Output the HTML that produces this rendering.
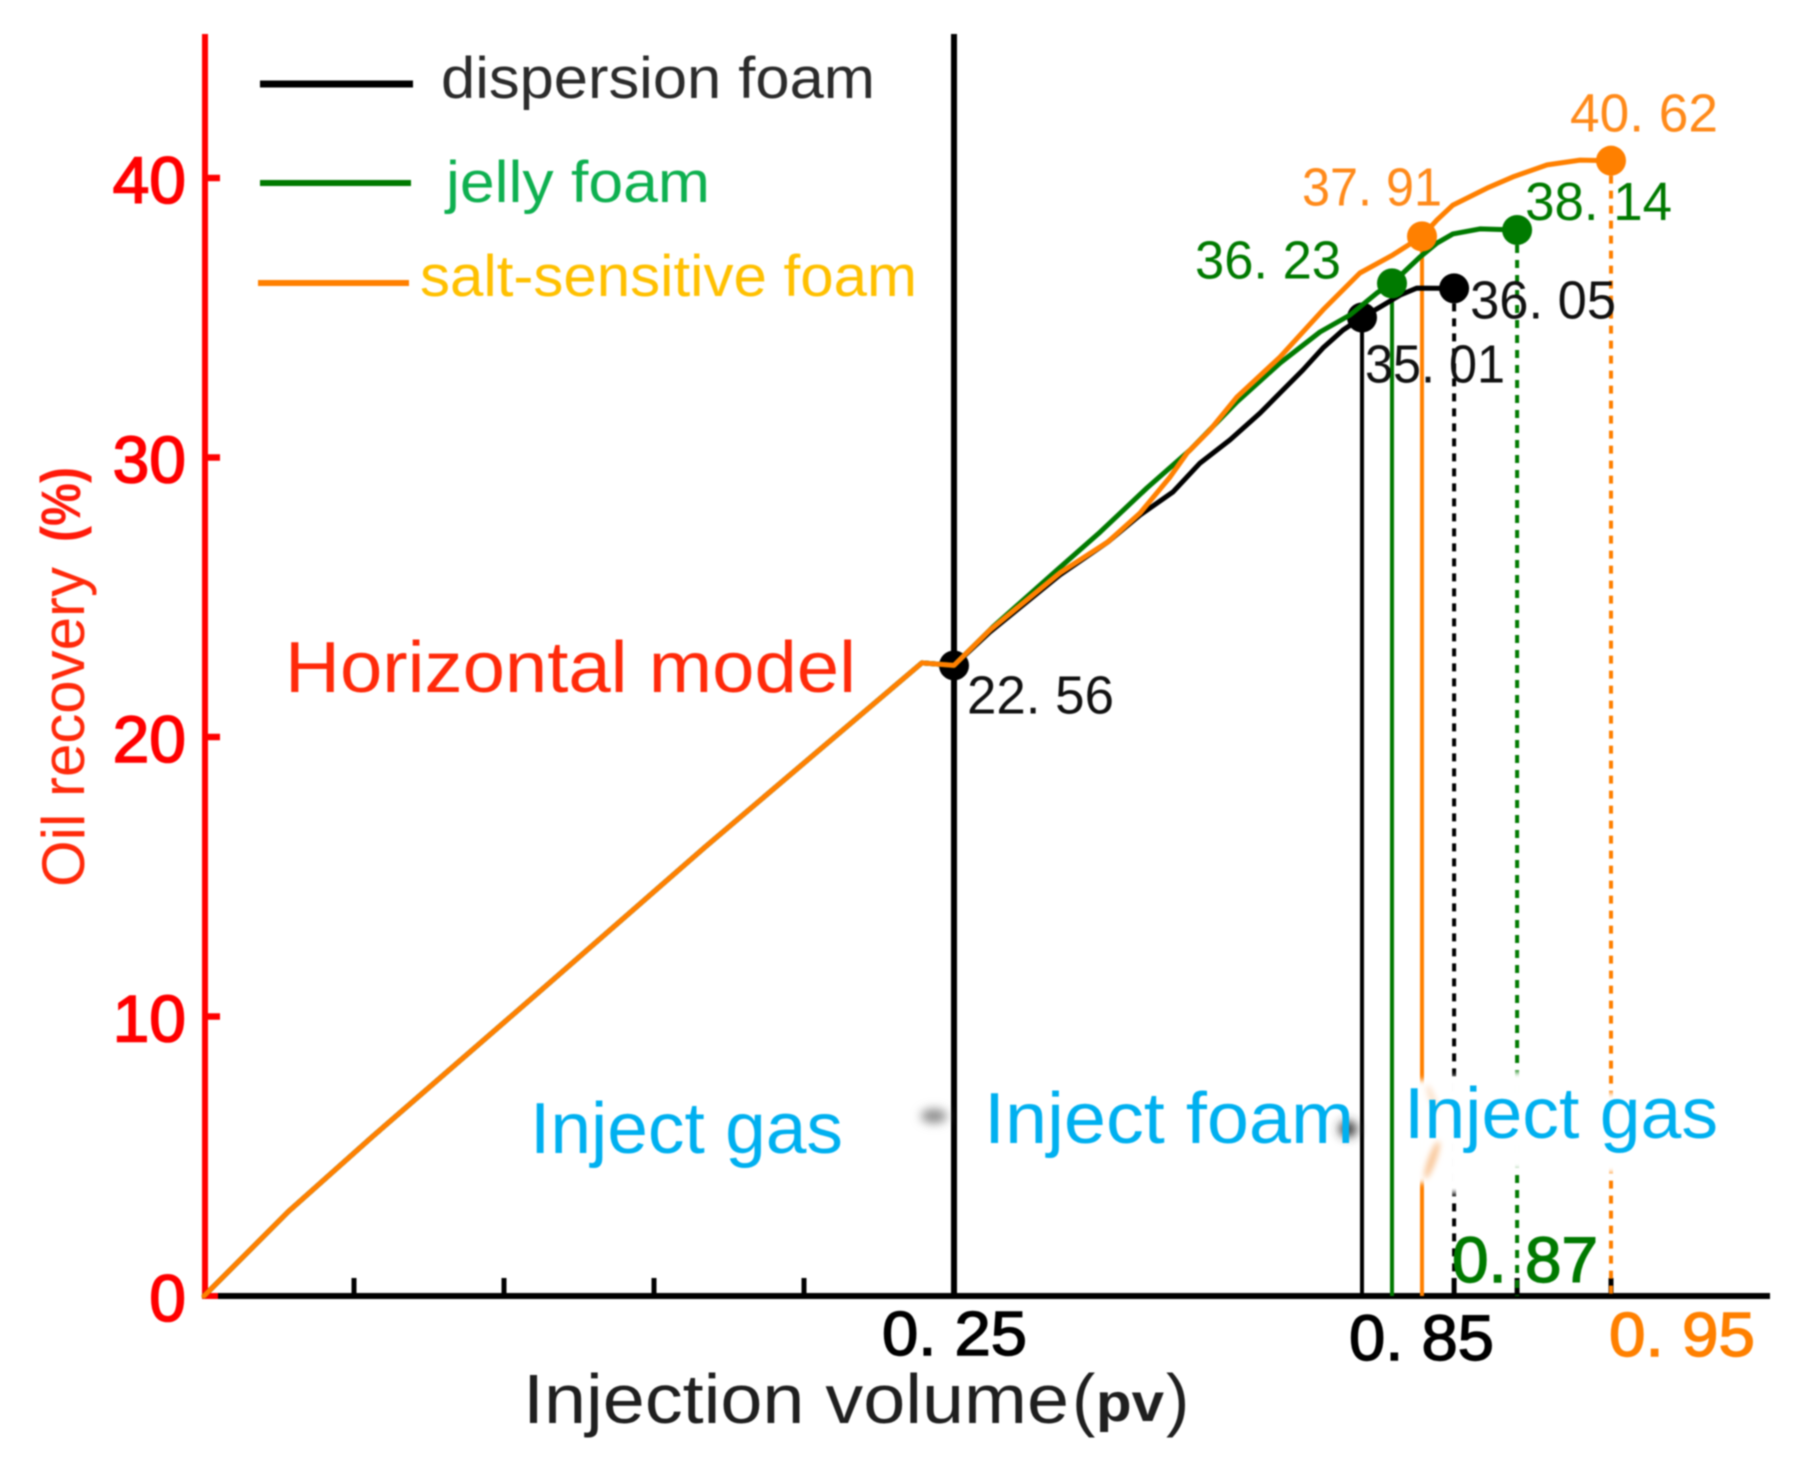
<!DOCTYPE html>
<html lang="en">
<head>
<meta charset="utf-8">
<title>Oil recovery versus injection volume</title>
<style>
  html, body { margin: 0; padding: 0; background: #fff; }
  body { width: 1810px; height: 1474px; overflow: hidden; }
  svg { display: block; filter: blur(0.7px); }
  text { font-family: "Liberation Sans", Arial, sans-serif; }
</style>
</head>
<body>
<svg id="chart" xmlns="http://www.w3.org/2000/svg" width="1810" height="1474" viewBox="0 0 1810 1474">
  <defs>
    <filter id="soft" x="-100%" y="-100%" width="300%" height="300%"><feGaussianBlur stdDeviation="5"/></filter>
    <filter id="softer" x="-100%" y="-100%" width="300%" height="300%"><feGaussianBlur stdDeviation="3"/></filter>
  </defs>
  <rect width="1810" height="1474" fill="#ffffff"/>
  <g id="axes"></g>
  <g id="guides"></g>
  <g id="masks">
    <rect x="1414" y="1080" width="16" height="103" fill="#fff" filter="url(#softer)"/>
    <rect x="1447" y="1077" width="16" height="116" fill="#fff" filter="url(#softer)"/>
    <rect x="1509" y="1072" width="16" height="98" fill="#fff" filter="url(#softer)"/>
    <rect x="1603" y="1093" width="16" height="80" fill="#fff" filter="url(#softer)"/>
    <ellipse cx="1432" cy="1160" rx="4" ry="20" fill="#f9c79a" filter="url(#softer)" transform="rotate(20 1432 1160)"/>
    <ellipse cx="1432" cy="1098" rx="3" ry="14" fill="#fbe0c8" filter="url(#softer)" transform="rotate(-20 1432 1098)"/>
    <ellipse cx="934" cy="1116" rx="13" ry="7" fill="#8a8a8a" filter="url(#soft)"/>
    <ellipse cx="1348" cy="1129" rx="9" ry="8" fill="#333" filter="url(#soft)"/>
  </g>
  <g id="series"></g>
  <g id="value-labels"></g>
  <g id="tick-labels"></g>

  <g>
    <line x1="260" y1="84" x2="413" y2="84" stroke="#000" stroke-width="7"/>
    <text x="441" y="98" font-size="58" fill="#2b2b2b" textLength="434" lengthAdjust="spacingAndGlyphs">dispersion foam</text>
    <line x1="260" y1="183" x2="411" y2="183" stroke="#007a00" stroke-width="6"/>
    <text x="446" y="202" font-size="58" fill="#0eb050" textLength="264" lengthAdjust="spacingAndGlyphs">jelly foam</text>
    <line x1="258" y1="283" x2="409" y2="283" stroke="#ff8000" stroke-width="6"/>
    <text x="420" y="296" font-size="58" fill="#ffc000" textLength="497" lengthAdjust="spacingAndGlyphs">salt-sensitive foam</text>
  </g>

  <text x="285" y="692" font-size="72" fill="#ff2a0a" textLength="571" lengthAdjust="spacingAndGlyphs">Horizontal model</text>
  <text x="530" y="1153" font-size="72" fill="#00b0f0" textLength="313" lengthAdjust="spacingAndGlyphs">Inject gas</text>
  <text x="984" y="1143" font-size="72" fill="#00b0f0" textLength="370" lengthAdjust="spacingAndGlyphs">Inject foam</text>
  <text x="1404" y="1138" font-size="72" fill="#00b0f0" textLength="314" lengthAdjust="spacingAndGlyphs">Inject gas</text>

  <g transform="translate(84 887) rotate(-90)">
    <text x="0" y="0" font-size="60" fill="#ff2a0a" textLength="320" lengthAdjust="spacingAndGlyphs">Oil recovery</text>
    <text x="345" y="-4" font-size="56" font-weight="bold" fill="#ff1a0a" textLength="75" lengthAdjust="spacingAndGlyphs">(%)</text>
  </g>

  <g>
    <text x="523" y="1423" font-size="70" fill="#1f1f1f" textLength="546" lengthAdjust="spacingAndGlyphs">Injection volume</text>
    <text x="1072" y="1423" font-size="70" fill="#1f1f1f">(</text>
    <text x="1096" y="1421" font-size="54" font-weight="bold" fill="#1f1f1f" textLength="68" lengthAdjust="spacingAndGlyphs">pv</text>
    <text x="1166" y="1423" font-size="70" fill="#1f1f1f">)</text>
  </g>
</svg>

<script>
/* Data. The x positions are in axis units where each unlabelled tick is 0.05. */
const yTickValues = [0, 10, 20, 30, 40];
const xTickValues = [0.05, 0.10, 0.15, 0.20, 0.25];

const gasStageX = [0, 0.028, 0.056, 0.1113, 0.167, 0.2393, 0.25];
const gasStageY = [0, 3.01, 5.69, 10.84, 16.06, 22.65, 22.56];

const dispersionX = [0.262, 0.2853, 0.3013, 0.312, 0.323, 0.332, 0.342, 0.352, 0.3587, 0.3663, 0.373, 0.3797, 0.386, 0.392, 0.3987, 0.4043, 0.4167];
const dispersionY = [23.76, 25.8, 26.98, 27.94, 28.77, 29.8, 30.63, 31.59, 32.31, 33.13, 33.92, 34.56, 35.01, 35.38, 35.81, 36.06, 36.05];

const jellyX = [0.263, 0.2843, 0.2987, 0.3143, 0.3287, 0.3443, 0.3587, 0.372, 0.382, 0.391, 0.396, 0.4053, 0.411, 0.4163, 0.4253, 0.4377];
const jellyY = [23.94, 25.97, 27.33, 28.91, 30.27, 31.99, 33.38, 34.49, 35.1, 35.89, 36.23, 37.17, 37.67, 38.0, 38.18, 38.14];

const saltX = [0.262, 0.2853, 0.3013, 0.312, 0.322, 0.3277, 0.3353, 0.3443, 0.3587, 0.373, 0.3853, 0.3963, 0.406, 0.411, 0.4163, 0.4277, 0.4363, 0.4477, 0.4587, 0.469];
const saltY = [23.83, 25.87, 26.98, 28.01, 29.3, 30.16, 30.98, 32.16, 33.6, 35.28, 36.6, 37.25, 37.91, 38.5, 39.03, 39.64, 40.04, 40.47, 40.64, 40.62];

const switchX = [0.25];
const switchY = [22.56];
const dispersionMarkerX = [0.386, 0.4167];
const dispersionMarkerY = [35.01, 36.05];
const jellyMarkerX = [0.396, 0.4377];
const jellyMarkerY = [36.23, 38.14];
const saltMarkerX = [0.406, 0.469];
const saltMarkerY = [37.91, 40.62];

/* Axis labels exactly as printed in the figure. */
const xLabelText = ['0. 25', '0. 85', '0. 87', '0. 95'];

/* Axis functions */
function xScale(v) { return 204 + 3000 * v; }
function yScale(v) { return 1296 - 27.95 * v; }

const NS = 'http://www.w3.org/2000/svg';
const BLACK = '#000000', GREEN = '#007a00', ORANGE = '#ff8000', RED = '#ff0000';
const axesG = document.getElementById('axes');
const guidesG = document.getElementById('guides');
const seriesG = document.getElementById('series');
const valuesG = document.getElementById('value-labels');
const ticksG = document.getElementById('tick-labels');

function make(tag, parent) {
  const el = document.createElementNS(NS, tag);
  parent.appendChild(el);
  return el;
}
function lineEl(parent, x1, y1, x2, y2, color, width, dash) {
  const el = make('line', parent);
  el.setAttribute('x1', x1);
  el.setAttribute('y1', y1);
  el.setAttribute('x2', x2);
  el.setAttribute('y2', y2);
  el.setAttribute('stroke', color);
  el.setAttribute('stroke-width', width);
  if (dash) el.setAttribute('stroke-dasharray', dash);
  return el;
}
function curve(xs, ys, color, name) {
  const el = make('polyline', seriesG);
  const pts = [];
  for (let i = 0; i < xs.length; i++) pts.push(xScale(xs[i]).toFixed(1) + ',' + yScale(ys[i]).toFixed(1));
  el.setAttribute('points', pts.join(' '));
  el.setAttribute('fill', 'none');
  el.setAttribute('stroke', color);
  el.setAttribute('stroke-width', '5');
  el.setAttribute('stroke-linejoin', 'round');
  el.setAttribute('stroke-linecap', 'round');
  
  
}
function dot(xv, yv, color, name) {
  const el = make('circle', seriesG);
  el.setAttribute('cx', xScale(xv));
  el.setAttribute('cy', yScale(yv));
  el.setAttribute('r', '15');
  el.setAttribute('fill', color);
  
  
}
function guide(xv, yv, color, dash, name) {
  const el = lineEl(guidesG, xScale(xv), yScale(yv), xScale(xv), 1296, color, 4, dash);
  
  
}
function textEl(parent, str, x, y, size, color, width, strokeW, name) {
  const el = make('text', parent);
  el.textContent = str;
  el.setAttribute('x', x);
  el.setAttribute('y', y);
  el.setAttribute('font-size', size);
  el.setAttribute('fill', color);
  if (width) {
    el.setAttribute('textLength', width);
    el.setAttribute('lengthAdjust', 'spacingAndGlyphs');
  }
  if (strokeW) {
    el.setAttribute('stroke', color);
    el.setAttribute('stroke-width', strokeW);
  }
  
  
  return el;
}
function printed(v) { return v.toFixed(2).replace('.', '. '); }

/* Axes */
const redAxis = lineEl(axesG, 205, 34, 205, 1299, RED, 6);


const blackAxis = lineEl(axesG, 218, 1296, 1770, 1296, BLACK, 6);


const redFoot = lineEl(axesG, 205, 1296, 218, 1296, RED, 6);



yTickValues.forEach(function (v) {
  if (v > 0) {
    const t = lineEl(axesG, 205, yScale(v), 220, yScale(v), RED, 6.5);
    
    
  }
  const lbl = textEl(ticksG, String(v), 186, yScale(v) + 25, 66, RED, 0, 1.6, 'y-tick-label-' + v);
  lbl.setAttribute('text-anchor', 'end');
});
xTickValues.forEach(function (v) {
  const t = lineEl(axesG, xScale(v), 1278, xScale(v), 1296, BLACK, 5);
  
  
});
[dispersionMarkerX[1], jellyMarkerX[1], saltMarkerX[1]].forEach(function (v, i) {
  const t = lineEl(axesG, xScale(v), 1278, xScale(v), 1296, BLACK, 5);
  
  
});

/* Vertical guides */
const mainGuide = lineEl(guidesG, xScale(switchX[0]), 34, xScale(switchX[0]), 1296, BLACK, 6);


guide(dispersionMarkerX[0], dispersionMarkerY[0], BLACK, null, 'dispersion-foam-end-guide');
guide(jellyMarkerX[0], jellyMarkerY[0], GREEN, null, 'jelly-foam-end-guide');
guide(saltMarkerX[0], saltMarkerY[0], ORANGE, null, 'salt-foam-end-guide');
guide(dispersionMarkerX[1], dispersionMarkerY[1], BLACK, '8 7', 'dispersion-gas-end-guide');
guide(jellyMarkerX[1], jellyMarkerY[1], GREEN, '8 7', 'jelly-gas-end-guide');
guide(saltMarkerX[1], saltMarkerY[1], ORANGE, '8 7', 'salt-gas-end-guide');

/* Series and markers, back to front */
dot(switchX[0], switchY[0], BLACK, 'marker-switch-point');
dot(dispersionMarkerX[0], dispersionMarkerY[0], BLACK, 'marker-dispersion-foam-end');
dot(dispersionMarkerX[1], dispersionMarkerY[1], BLACK, 'marker-dispersion-gas-end');
curve(gasStageX.concat(dispersionX), gasStageY.concat(dispersionY), BLACK, 'series-dispersion-foam');
curve(gasStageX.concat(jellyX), gasStageY.concat(jellyY), GREEN, 'series-jelly-foam');
dot(jellyMarkerX[0], jellyMarkerY[0], GREEN, 'marker-jelly-foam-end');
dot(jellyMarkerX[1], jellyMarkerY[1], GREEN, 'marker-jelly-gas-end');
curve(gasStageX.concat(saltX), gasStageY.concat(saltY), ORANGE, 'series-salt-sensitive-foam');
dot(saltMarkerX[0], saltMarkerY[0], ORANGE, 'marker-salt-foam-end');
dot(saltMarkerX[1], saltMarkerY[1], ORANGE, 'marker-salt-gas-end');

/* Value labels, offset from their markers */
textEl(valuesG, printed(switchY[0]), xScale(switchX[0]) + 13, yScale(switchY[0]) + 48, 54, '#111', 147, 0, 'value-label-switch-point');
textEl(valuesG, printed(dispersionMarkerY[0]), xScale(dispersionMarkerX[0]) + 3, yScale(dispersionMarkerY[0]) + 65, 54, '#111', 140, 0, 'value-label-dispersion-foam-end');
textEl(valuesG, printed(dispersionMarkerY[1]), xScale(dispersionMarkerX[1]) + 16, yScale(dispersionMarkerY[1]) + 30, 54, '#111', 146, 0, 'value-label-dispersion-gas-end');
textEl(valuesG, printed(jellyMarkerY[0]), xScale(jellyMarkerX[0]) - 197, yScale(jellyMarkerY[0]) - 5, 54, GREEN, 146, 0, 'value-label-jelly-foam-end');
textEl(valuesG, printed(jellyMarkerY[1]), xScale(jellyMarkerX[1]) + 8, yScale(jellyMarkerY[1]) - 10, 54, GREEN, 147, 0, 'value-label-jelly-gas-end');
textEl(valuesG, printed(saltMarkerY[0]), xScale(saltMarkerX[0]) - 120, yScale(saltMarkerY[0]) - 31, 54, '#ff8a1a', 140, 0, 'value-label-salt-foam-end');
textEl(valuesG, printed(saltMarkerY[1]), xScale(saltMarkerX[1]) - 41, yScale(saltMarkerY[1]) - 29, 54, '#ff8a1a', 148, 0, 'value-label-salt-gas-end');

/* X axis labels as printed */
textEl(ticksG, xLabelText[0], 882, 1355, 62, '#000', 145, 1.4, 'x-label-0-25');
textEl(ticksG, xLabelText[1], 1349, 1360, 64, '#000', 145, 1.4, 'x-label-0-85');
textEl(ticksG, xLabelText[2], 1452, 1282, 64, GREEN, 146, 1.4, 'x-label-0-87');
textEl(ticksG, xLabelText[3], 1609, 1356, 62, ORANGE, 146, 1.4, 'x-label-0-95');
</script>
</body>
</html>
